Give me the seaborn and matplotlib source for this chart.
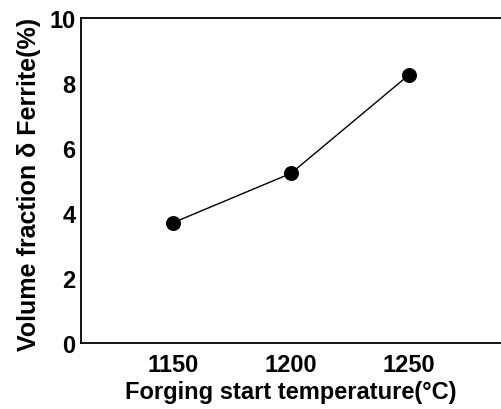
import matplotlib
matplotlib.use("Agg")
import matplotlib.pyplot as plt
import seaborn as sns
import pandas as pd

temperature = [1150, 1200, 1250]
ferrite = [3.7, 5.22, 8.25]
x_ticks = [1150, 1200, 1250]
y_ticks = [0, 2, 4, 6, 8, 10]

sns.set_style("white")
plt.rcParams['font.family'] = ['Liberation Sans', 'DejaVu Sans']
plt.rcParams['font.weight'] = 'bold'
plt.rcParams['text.color'] = 'black'
plt.rcParams['axes.labelcolor'] = 'black'

df = pd.DataFrame({"T": temperature, "F": ferrite})

fig = plt.figure(figsize=(5.01, 4.10), dpi=100)
ax = fig.add_axes([0.1617, 0.161, 0.8383, 0.7927])
sns.lineplot(data=df, x="T", y="F", ax=ax, color="black", linewidth=1.0,
             marker="o", markersize=10, markeredgecolor="black",
             markerfacecolor="black")

ax.set_xlim(1111, 1289)
ax.set_ylim(0, 10)
ax.set_xticks(x_ticks)
ax.set_yticks(y_ticks)
ax.tick_params(axis="both", direction="in", length=5, width=1, labelsize=17,
               colors="black", labelcolor="black")
ax.tick_params(axis="x", pad=7)
ax.tick_params(axis="y", pad=4)
for lab in ax.get_xticklabels() + ax.get_yticklabels():
    lab.set_fontweight("bold")

for s in ["left", "bottom", "top"]:
    ax.spines[s].set_visible(True)
    ax.spines[s].set_color("black")
    ax.spines[s].set_linewidth(1.3)
ax.spines["right"].set_visible(False)

ax.set_xlabel("Forging start temperature(°C)", fontsize=17, fontweight="bold",
              labelpad=3, color="black")
ax.set_ylabel("Volume fraction δ Ferrite(%)", fontsize=18, fontweight="bold",
              labelpad=6, color="black", y=0.49)

fig.savefig("out.png", dpi=100)
